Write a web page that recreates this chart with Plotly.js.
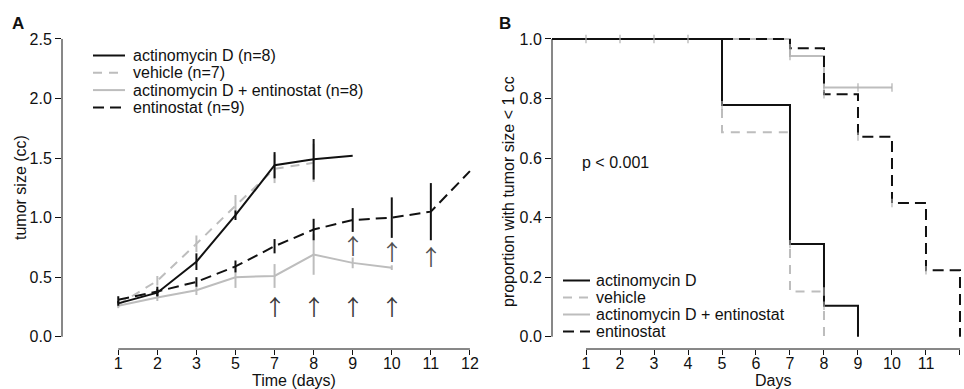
<!DOCTYPE html>
<html>
<head>
<meta charset="utf-8">
<script src="https://cdn.plot.ly/plotly-3.0.1.min.js"></script>
<style>html,body{margin:0;padding:0;background:#fff;}#chart{width:964px;height:389px;}</style>
</head>
<body>
<div id="chart"></div>
<script>
// ---------- Panel A data: tumor size (cc) by day ----------
const daysA = ['1','2','3','5','7','8','9','10','11','12'];

const actD_days = ['1','2','3','5','7','8','9'];
const actD_size = [0.28, 0.37, 0.63, 1.02, 1.44, 1.49, 1.52];
const actD_err  = [0.02, 0.03, 0.07, 0.04, 0.11, 0.17, 0];

const veh_days = ['1','2','3','5','7','8'];
const veh_size = [0.27, 0.47, 0.78, 1.10, 1.41, 1.46];
const veh_err  = [0.02, 0.04, 0.07, 0.09, 0.12, 0.16];

const combo_days = ['1','2','3','5','7','8','9','10'];
const combo_size = [0.26, 0.33, 0.39, 0.50, 0.51, 0.69, 0.62, 0.58];
const combo_err  = [0.02, 0.03, 0.04, 0.09, 0.10, 0.17, 0.045, 0.02];

const ent_days = ['1','2','3','5','7','8','9','10','11','12'];
const ent_size = [0.31, 0.38, 0.46, 0.59, 0.76, 0.90, 0.98, 1.00, 1.05, 1.39];
const ent_err  = [0.03, 0.04, 0.04, 0.05, 0.06, 0.09, 0.10, 0.17, 0.24, 0];

const arrowDays = ['7','8','9','10','9','10','11'];
const arrowY    = [0.27, 0.27, 0.27, 0.27, 0.78, 0.73, 0.69];

const namesA = ['actinomycin D (n=8)','vehicle (n=7)','actinomycin D + entinostat (n=8)','entinostat (n=9)'];

// ---------- Panel B data: proportion with tumor size < 1 cc ----------
const km_actD_x = [0, 5, 7, 8, 9];
const km_actD_y = [1, 0.778, 0.311, 0.104, 0];
const km_veh_x = [0, 5, 7, 8];
const km_veh_y = [1, 0.687, 0.152, 0];
const km_combo_x = [0, 7, 8, 10];
const km_combo_y = [1, 0.943, 0.837, 0.837];
const km_ent_x = [0, 7, 8, 9, 10, 11, 12];
const km_ent_y = [1, 0.969, 0.814, 0.672, 0.449, 0.223, 0];

const censor_x = [1, 2, 3, 4, 5, 7, 8, 8, 7, 8, 9, 10, 7, 8, 9, 10, 11];
const censor_y = [1, 1, 1, 1, 0.778, 0.311, 0.152, 0.104, 0.943, 0.837, 0.837, 0.837, 0.969, 0.814, 0.672, 0.449, 0.223];

const namesB = ['actinomycin D','vehicle','actinomycin D + entinostat','entinostat'];
const daysB = [1,2,3,4,5,6,7,8,9,10,11,12];

// ---------- styles ----------
const BLACK = '#111111', GRAY = '#bdbdbd';
const styles = [
  {color: BLACK, dash: 'solid'},
  {color: GRAY, dash: '9px,7px'},
  {color: GRAY, dash: 'solid'},
  {color: BLACK, dash: '11px,6px'}
];
const W = 964, H = 389;
const py = p => 1 - p / H;
const px = p => p / W;
const yDom = [py(349), py(33)];

function lineTrace(x, y, err, st, xa, ya, shape) {
  const t = {x: x, y: y, mode: 'lines', xaxis: xa, yaxis: ya, hoverinfo: 'skip',
    line: {color: st.color, width: 2, dash: st.dash, shape: shape || 'linear'}};
  if (err) t.error_y = {type: 'data', array: err, visible: true, width: 0, thickness: 2, color: st.color};
  return t;
}

const data = [
  lineTrace(veh_days, veh_size, veh_err, styles[1], 'x', 'y'),
  lineTrace(combo_days, combo_size, combo_err, styles[2], 'x', 'y'),
  lineTrace(ent_days, ent_size, ent_err, styles[3], 'x', 'y'),
  lineTrace(actD_days, actD_size, actD_err, styles[0], 'x', 'y'),
  lineTrace(km_combo_x, km_combo_y, null, styles[2], 'x2', 'y2', 'hv'),
  lineTrace(km_veh_x, km_veh_y, null, styles[1], 'x2', 'y2', 'hv'),
  lineTrace(km_actD_x, km_actD_y, null, styles[0], 'x2', 'y2', 'hv'),
  lineTrace(km_ent_x, km_ent_y, null, styles[3], 'x2', 'y2', 'hv'),
  {x: censor_x, y: censor_y, mode: 'markers', xaxis: 'x2', yaxis: 'y2', hoverinfo: 'skip',
   marker: {symbol: 'line-ns', size: 6, line: {width: 1.2, color: '#b0b0b0'}}}
];

const shapes = [
  // axis lines (R style, detached)
  {type: 'line', xref: 'paper', yref: 'y', x0: px(62), x1: px(62), y0: 0, y1: 2.5, line: {color: BLACK, width: 1}},
  {type: 'line', xref: 'x', yref: 'paper', x0: 0, x1: daysA.length - 1, y0: yDom[0], y1: yDom[0], line: {color: BLACK, width: 1}},
  {type: 'line', xref: 'paper', yref: 'y2', x0: px(552), x1: px(552), y0: 0, y1: 1, line: {color: BLACK, width: 1}},
  {type: 'line', xref: 'x2', yref: 'paper', x0: 1, x1: 12, y0: yDom[0], y1: yDom[0], line: {color: BLACK, width: 1}}
];
const FONT = 'Liberation Sans, Arial, Helvetica, sans-serif';
const annotations = [];

function ann(o) {
  annotations.push(Object.assign({showarrow: false, xanchor: 'center', yanchor: 'middle'}, o));
}

function addLegend(names, x0, x1, xt, y0, dy) {
  names.forEach((n, i) => {
    const yy = py(y0 + dy * i);
    shapes.push({type: 'line', xref: 'paper', yref: 'paper', x0: px(x0), x1: px(x1), y0: yy, y1: yy,
      line: {color: styles[i].color, width: 2, dash: styles[i].dash}});
    ann({xref: 'paper', yref: 'paper', x: px(xt), y: yy, text: n, xanchor: 'left',
      font: {size: 16, color: BLACK, family: FONT}});
  });
}
addLegend(namesA, 93, 125, 131, 55.5, 17.3);
addLegend(namesB, 563, 590, 594, 280.5, 17);

arrowDays.forEach((d, i) => {
  ann({xref: 'x', yref: 'y', x: daysA.indexOf(d), y: arrowY[i], text: '↑',
    font: {size: 22, color: i < 4 ? '#3a3a3a' : '#505050', family: 'Noto Sans CJK SC'}});
});

ann({xref: 'paper', yref: 'paper', x: px(18), y: py(24), text: '<b>A</b>', font: {size: 17, color: BLACK, family: FONT}});
ann({xref: 'paper', yref: 'paper', x: px(505), y: py(24), text: '<b>B</b>', font: {size: 17, color: BLACK, family: FONT}});
ann({xref: 'paper', yref: 'paper', x: px(294), y: py(380), text: 'Time (days)', font: {size: 16, color: BLACK, family: FONT}});
ann({xref: 'paper', yref: 'paper', x: px(773), y: py(380), text: 'Days', font: {size: 16, color: BLACK, family: FONT}});
ann({xref: 'paper', yref: 'paper', x: px(20), y: py(188), text: 'tumor size (cc)', textangle: -90, font: {size: 16, color: BLACK, family: FONT}});
ann({xref: 'paper', yref: 'paper', x: px(508), y: py(192), text: 'proportion with tumor size < 1 cc', textangle: -90, font: {size: 16, color: BLACK, family: FONT}});
ann({xref: 'x2', yref: 'y2', x: 0.82, y: 0.584, text: 'p < 0.001', xanchor: 'left', font: {size: 16, color: BLACK, family: FONT}});

const axBase = {showgrid: false, zeroline: false, showline: false, ticks: 'outside', ticklen: 6, tickwidth: 1,
  tickcolor: BLACK, automargin: false, fixedrange: true, tickfont: {size: 16, color: BLACK, family: FONT}};

const layout = {
  width: W, height: H, margin: {l: 0, r: 0, t: 0, b: 0},
  paper_bgcolor: '#fff', plot_bgcolor: 'rgba(0,0,0,0)', showlegend: false,
  font: {family: FONT, size: 16, color: BLACK},
  xaxis: Object.assign({}, axBase, {domain: [px(62), px(475)], anchor: 'y', type: 'category',
    categoryorder: 'array', categoryarray: daysA, tickmode: 'array', tickvals: daysA, ticktext: daysA,
    range: [-1.44, 9.13], ticklen: 5, ticklabelstandoff: -5}),
  yaxis: Object.assign({}, axBase, {domain: yDom, anchor: 'x', range: [-0.103, 2.55],
    tickmode: 'array', tickvals: [0, 0.5, 1, 1.5, 2, 2.5], tickformat: '.1f'}),
  xaxis2: Object.assign({}, axBase, {domain: [px(552), 1], anchor: 'y2', range: [0, 12.118],
    tickmode: 'array', tickvals: daysB, ticklen: 5, ticklabelstandoff: -5}),
  yaxis2: Object.assign({}, axBase, {domain: yDom, anchor: 'x2', range: [-0.0413, 1.0201],
    tickmode: 'array', tickvals: [0, 0.2, 0.4, 0.6, 0.8, 1.0], tickformat: '.1f'}),
  shapes: shapes, annotations: annotations
};

Plotly.newPlot('chart', data, layout, {displayModeBar: false, staticPlot: true});
</script>
</body>
</html>
